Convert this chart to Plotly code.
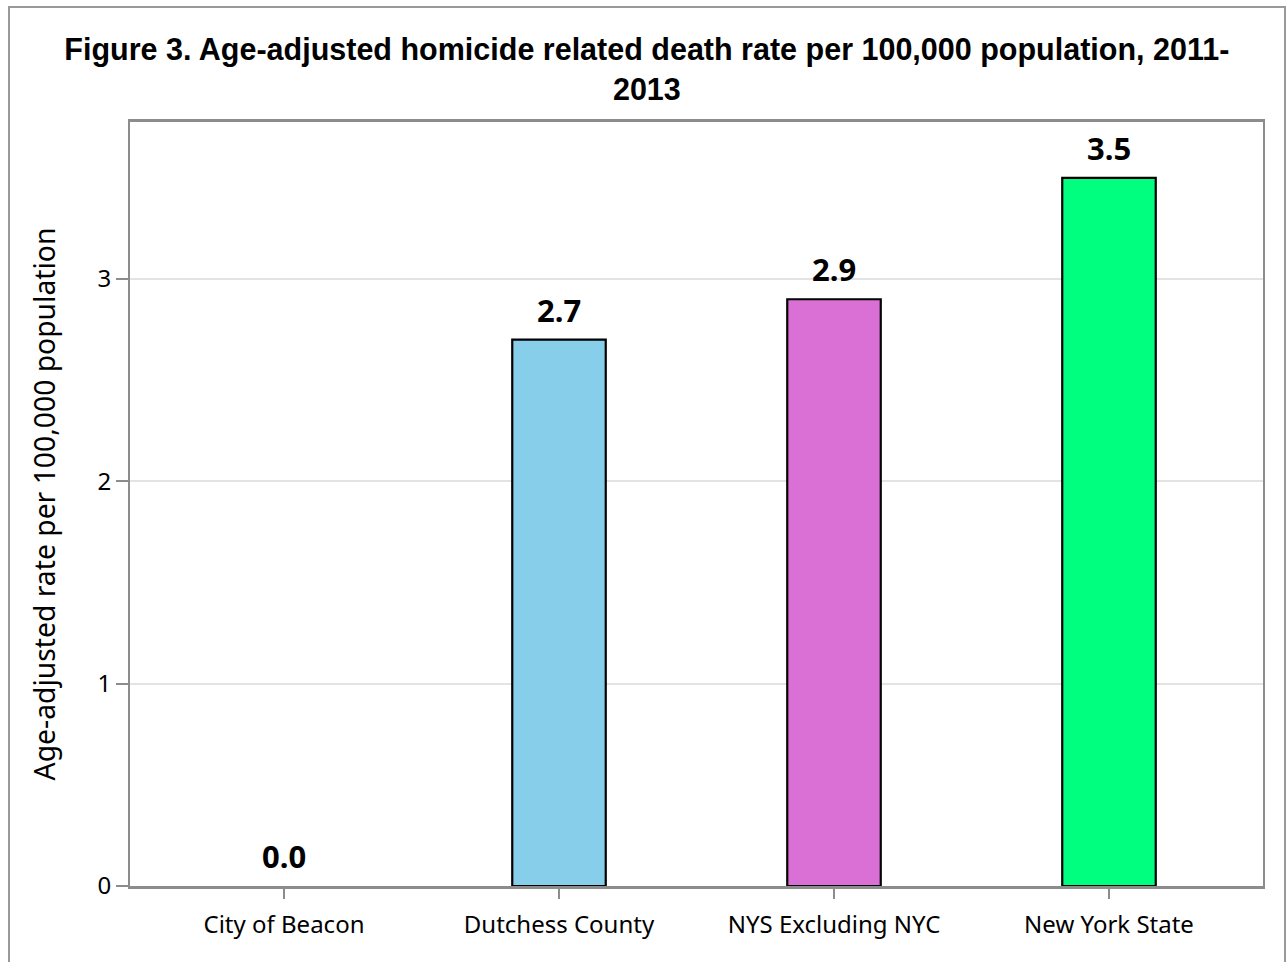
import plotly.graph_objects as go

categories = ["City of Beacon", "Dutchess County", "NYS Excluding NYC", "New York State"]
rates = [0.0, 2.7, 2.9, 3.5]
bar_colors = ["#87CEEB", "#87CEEB", "#DA70D6", "#00FF7F"]
outline_widths = [0, 2.2, 2.2, 2.2]
title_text = "Figure 3. Age-adjusted homicide related death rate per 100,000 population, 2011-<br>2013"
y_title = "Age-adjusted rate per 100,000 population"
y_ticks = [0, 1, 2, 3]

fig = go.Figure()
fig.add_trace(go.Bar(
    x=categories, y=rates, width=0.34,
    marker=dict(color=bar_colors, line=dict(color="black", width=outline_widths)),
    hoverinfo="skip",
))

for c, v in zip(categories, rates):
    fig.add_annotation(
        x=c, y=v, text=f"<b>{v:.1f}</b>", showarrow=False,
        xref="x", yref="y", yanchor="bottom", yshift=7,
        font=dict(family="Noto Sans", size=31, color="black"),
    )

fig.update_layout(
    width=1286, height=962,
    paper_bgcolor="white", plot_bgcolor="white",
    margin=dict(l=130, r=23, t=122, b=76),
    showlegend=False,
    title=dict(
        text=title_text, x=0.503, xref="container", xanchor="center",
        y=1 - 60 / 962, yref="container", yanchor="middle",
        font=dict(family="Liberation Sans", size=30.5, color="black", weight="bold"),
    ),
    font=dict(family="Noto Sans", color="black"),
    xaxis=dict(
        range=[-0.56, 3.56], showline=True, linecolor="#8c8c8c", linewidth=2.5,
        mirror=True, ticks="outside", ticklen=10, tickcolor="#8c8c8c", tickwidth=1.5,
        tickfont=dict(family="Noto Sans", size=24, color="black"), showgrid=False,
        ticklabelstandoff=5,
    ),
    yaxis=dict(
        range=[0, 3.776], showline=True, linecolor="#8c8c8c", linewidth=2,
        mirror=True, ticks="outside", ticklen=12, tickcolor="#8c8c8c", tickwidth=1.5,
        tickvals=y_ticks, tickfont=dict(family="Noto Sans", size=24, color="black"),
        showgrid=True, gridcolor="#e3e3e3", gridwidth=2, zeroline=False,
        title=dict(text=y_title, font=dict(family="Noto Sans", size=28.3, color="black"), standoff=34),
    ),
    shapes=[dict(
        type="rect", xref="paper", yref="paper",
        x0=(9 - 130) / 1133, x1=(1285 - 130) / 1133,
        y0=(886 - 975) / 764, y1=(886 - 7) / 764,
        line=dict(color="#999999", width=2), fillcolor="rgba(0,0,0,0)", layer="below",
    )],
)

fig.write_html("out.html", config={"displayModeBar": False},
               post_script="document.body.style.margin='0';")
